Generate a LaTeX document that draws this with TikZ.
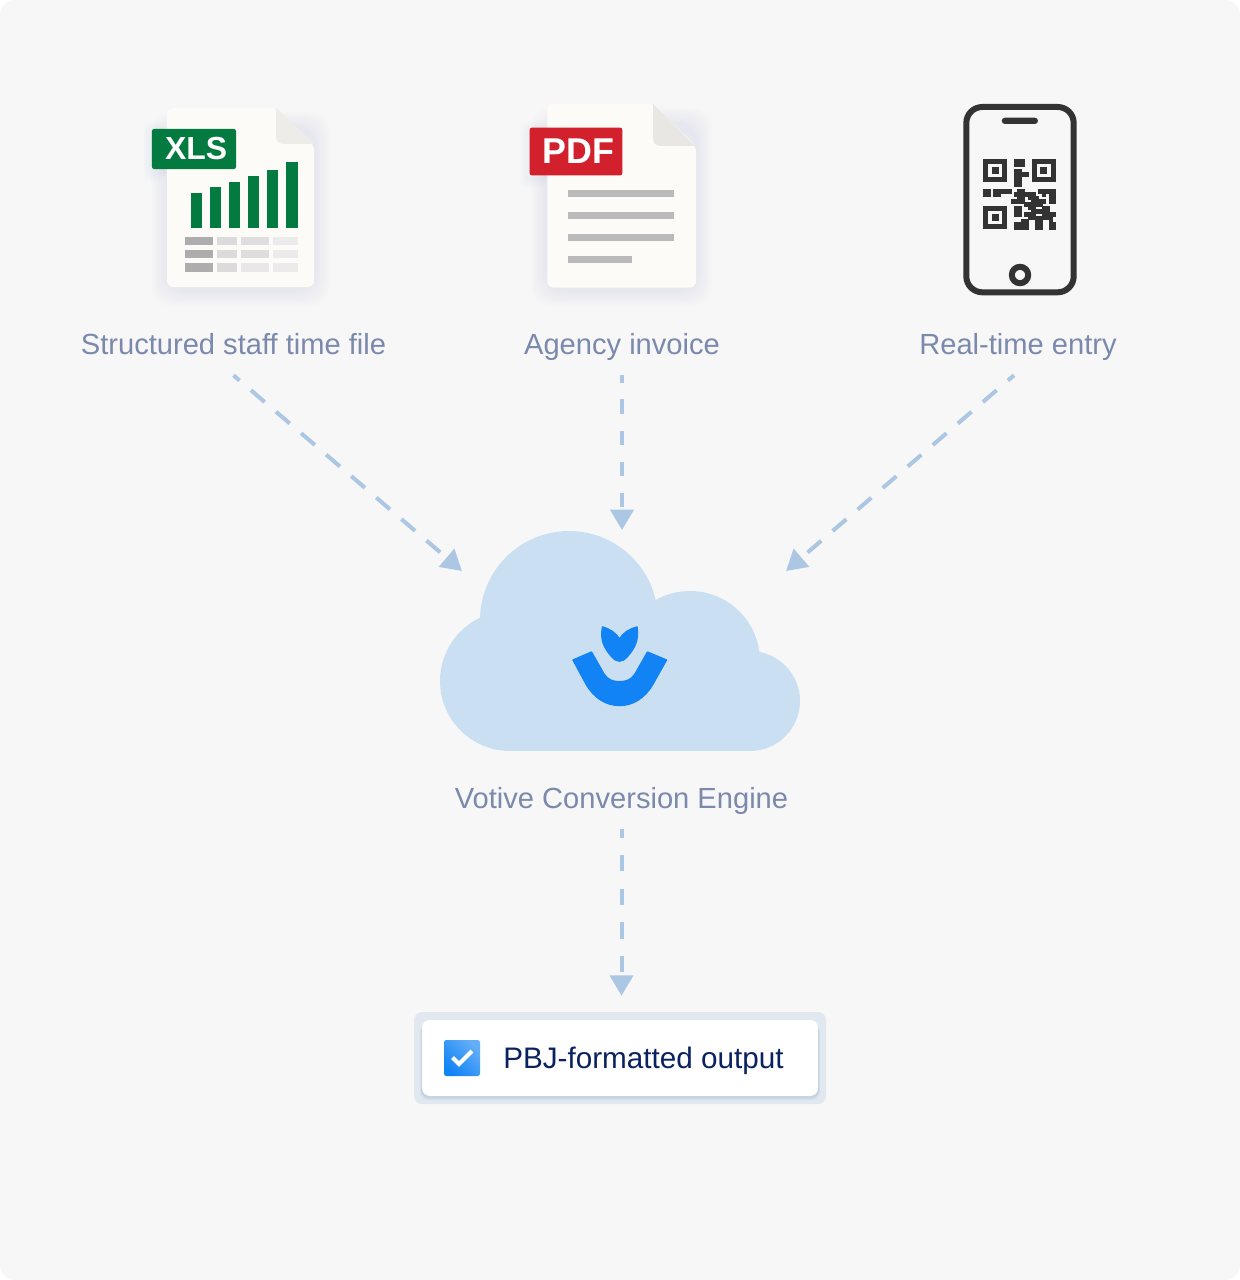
\documentclass[tikz,border=0pt]{standalone}
\usepackage{fontspec}
\setmainfont{Liberation Sans}
\usetikzlibrary{arrows.meta}
\definecolor{bggrey}{HTML}{F7F7F7}
\definecolor{labelblue}{HTML}{7B89AD}
\definecolor{flowblue}{HTML}{ABC7E3}
\definecolor{cloudblue}{HTML}{CBDFF3}
\definecolor{logoblue}{HTML}{1183F5}
\definecolor{pagecream}{HTML}{FDFBF8}
\definecolor{xlsgreen}{HTML}{037A3F}
\definecolor{pdfred}{HTML}{D2202C}
\definecolor{phonegrey}{HTML}{333333}
\definecolor{navytext}{HTML}{0B2260}
\definecolor{shadowblue}{HTML}{8A9CC4}
\definecolor{framepale}{HTML}{E1E8F0}
\definecolor{frameshade}{HTML}{9DB6D2}
\tikzset{
  sourcelabel/.style={text=labelblue,font=\fontsize{20.7}{24}\selectfont,text height=29.5pt,text depth=14.6pt,inner sep=0pt},
  flowline/.style={draw=flowblue,line width=.1cm,-{Triangle[length=14.5pt,width=16.4pt,fill=flowblue]}},
  flowdiag/.style={flowline,dash pattern=on .45cm off .375cm,dash phase=.25cm},
  flowup/.style={flowline,dash pattern=on .3625cm off .4125cm,dash phase=.17cm},
  flowlow/.style={flowline,dash pattern=on .41cm off .43cm,dash phase=.2cm},
  filetag/.style={text=white,inner sep=0pt,rounded corners=1.5pt}
}
\begin{document}
\begin{tikzpicture}[x=.025cm,y=-.025cm]
\useasboundingbox (0,0) rectangle (1240,1280);
\fill[white] (0,0) rectangle (1240,1280);
\fill[bggrey,rounded corners=.4cm] (0,0) rectangle (1240,1280);
% xls file
\foreach \g in {1,...,8}
  \fill[shadowblue,opacity=.014,rounded corners=.5cm] (167-2*\g,128-2*\g) rectangle (314+2*\g,290+2*\g);
\fill[pagecream,rounded corners=.15cm] (167,108) -- (276,108) -- (314,145) -- (314,287) -- (167,287) -- cycle;
\fill[black!6!pagecream] (276,108) -- (314,144) -- (284,144) .. controls (279,144) and (276,141) .. (276,136) -- cycle;
\foreach \g in {1,...,5}
  \fill[shadowblue,opacity=.02,rounded corners=.2cm] (152-2*\g,132-2*\g) rectangle (166,172+2*\g);
\foreach \x/\ytop in {190.7/193.3,209.7/187,228.7/181.7,247.7/176.3,267/170,286.3/161.7}
  \fill[xlsgreen] (\x,\ytop) rectangle (\x+11.4,228);
\foreach \ytop/\k in {237/0,250/0,263.3/4}{
  \fill[black!32] (185,\ytop) rectangle (212.7,\ytop+8.5);
  \fill[black!14] (217,\ytop) rectangle (237.3,\ytop+8.5);
  \fill[black!\the\numexpr13-\k\relax] (241.3,\ytop) rectangle (268.7,\ytop+8.5);
  \fill[black!8] (273,\ytop) rectangle (298,\ytop+8.5);
}
\node[filetag,fill=xlsgreen,minimum width=2.1cm,minimum height=1cm,font=\fontsize{22.7}{28}\bfseries\selectfont] (xlstag) at (194,149) {\kern3pt XLS};
% pdf file
\foreach \g in {1,...,8}
  \fill[shadowblue,opacity=.014,rounded corners=.5cm] (547-2*\g,124-2*\g) rectangle (696+2*\g,290+2*\g);
\fill[pagecream,rounded corners=.15cm] (547.3,104) -- (653,104) -- (696,146) -- (696,287.5) -- (547.3,287.5) -- cycle;
\fill[black!8!pagecream] (653,104) -- (695,146) -- (661,146) .. controls (656,146) and (653,143) .. (653,138) -- cycle;
\foreach \g in {1,...,5}
  \fill[shadowblue,opacity=.02,rounded corners=.2cm] (530-2*\g,131-2*\g) rectangle (547,178+2*\g);
\foreach \ytop/\xend in {190.3/674,212/674,233.7/674,255.7/632.3}
  \fill[black!27] (568.3,\ytop) rectangle (\xend,\ytop+7);
\node[filetag,fill=pdfred,minimum width=2.315cm,minimum height=1.19cm,font=\fontsize{25.5}{32}\bfseries\selectfont] (pdftag) at (576,151.5) {\kern3pt PDF};
% phone with qr code
\draw[phonegrey,line width=.15cm,rounded corners=.4cm] (966.3,107) rectangle (1073.7,292.3);
\fill[phonegrey,rounded corners=.08cm] (1001.7,117.7) rectangle (1038,124);
\draw[phonegrey,line width=.15cm] (1020,275) circle (8.2);
\begin{scope}[shift={(983.3,159)},x=.08625cm,y=-.0838cm]
  \foreach \a/\b in {0/0,14/0,0/14}{
    \draw[phonegrey,line width=.1257cm] (\a+.75,\b+.75) rectangle (\a+6.25,\b+6.25);
    \fill[phonegrey] (\a+2.5,\b+2.5) rectangle (\a+4.5,\b+4.5);
  }
  \foreach \r/\a/\b in {0/9/12,1/9/12,3/9/11,4/9/13,5/9/11,6/9/11,7/9/11,
    9/0/2,9/3/8,9/10/12,9/16/21,10/0/2,10/3/5,10/9/15,10/17/18,10/19/21,
    11/10/12,11/13/16,11/19/21,12/8/12,12/14/18,12/19/21,13/12/17,
    14/9/11,14/13/15,14/17/19,15/9/11,15/14/19,16/9/11,16/12/15,16/17/21,
    17/13/20,18/11/13,18/15/17,18/19/20,19/9/13,19/15/17,19/19/21,20/9/13,20/15/17,20/19/21}
    \filldraw[phonegrey,line width=.5pt] (\a,\r) rectangle (\b,\r+1.1);
\end{scope}
% labels
\node[sourcelabel] (lblxls) at (233.5,344) {Structured staff time file};
\node[sourcelabel] (lblpdf) at (622,344) {Agency invoice};
\node[sourcelabel] (lblphone) at (1018,344) {Real-time entry};
% cloud
\foreach \cx/\cy/\r in {510/681/70,569/620/89,690/661/70,750/701/50}
  \fill[cloudblue] (\cx,\cy) circle (\r);
\fill[cloudblue] (510,640) rectangle (750,751);
\coordinate (cloudleft) at (462,571);
\coordinate (cloudtop) at (622,530);
\coordinate (cloudright) at (786,571);
% logo
\fill[logoblue,draw=logoblue,line width=1pt,line join=round] (573,660) -- (591.5,652) -- (604,674) .. controls (608,680) and (613,681.7) .. (619.5,681.7) .. controls (626,681.7) and (631,680) .. (635,674) -- (647.5,652) -- (666.5,660) -- (653,684) .. controls (645,698) and (633,705.5) .. (619.5,705.5) .. controls (606,705.5) and (594,698) .. (586,684) -- cycle;
\fill[logoblue,draw=logoblue,line width=1pt,line join=round] (602.5,627) .. controls (610,629) and (616,633) .. (619.5,639) .. controls (623,633) and (629,629) .. (637,627) .. controls (639,640) and (635,648) .. (627,657) .. controls (622,662.5) and (617,662.5) .. (612,657) .. controls (604,648) and (600,640) .. (602.5,627) -- cycle;
\node[sourcelabel] (lblengine) at (621.5,798) {Votive Conversion Engine};
% output box
\fill[framepale,rounded corners=.2cm] (414,1012) rectangle (826,1104);
\foreach \g in {1,...,4}
  \fill[frameshade,opacity=.14,rounded corners=.2cm] (422-\g/2,1024) rectangle (818+\g/2,1096+\g);
\node[fill=white,rounded corners=.2cm,minimum width=9.9cm,minimum height=1.9cm,inner sep=0pt] (outbox) at (620,1058) {};
\shade[rounded corners=.06cm,top color=logoblue!65!white,bottom color=logoblue,shading angle=-45] (444,1040) rectangle (480,1076);
\draw[white,line width=.1cm] (452.5,1057.5) -- (459,1064) -- (472,1051);
\node[anchor=west,inner sep=0pt,text=navytext,font=\fontsize{21.1}{24}\selectfont,text height=20pt,text depth=5pt] (outtext) at (503,1058) {PBJ-formatted output};
% arrows
\draw[flowdiag] (lblxls.south) -- (cloudleft);
\draw[flowup] (lblpdf.south) -- (cloudtop);
\draw[flowdiag] ([xshift=-.1cm]lblphone.south) -- (cloudright);
\draw[flowlow,shorten >=.6cm] (lblengine.south) -- (lblengine.south |- outbox.north);
\end{tikzpicture}
\end{document}
